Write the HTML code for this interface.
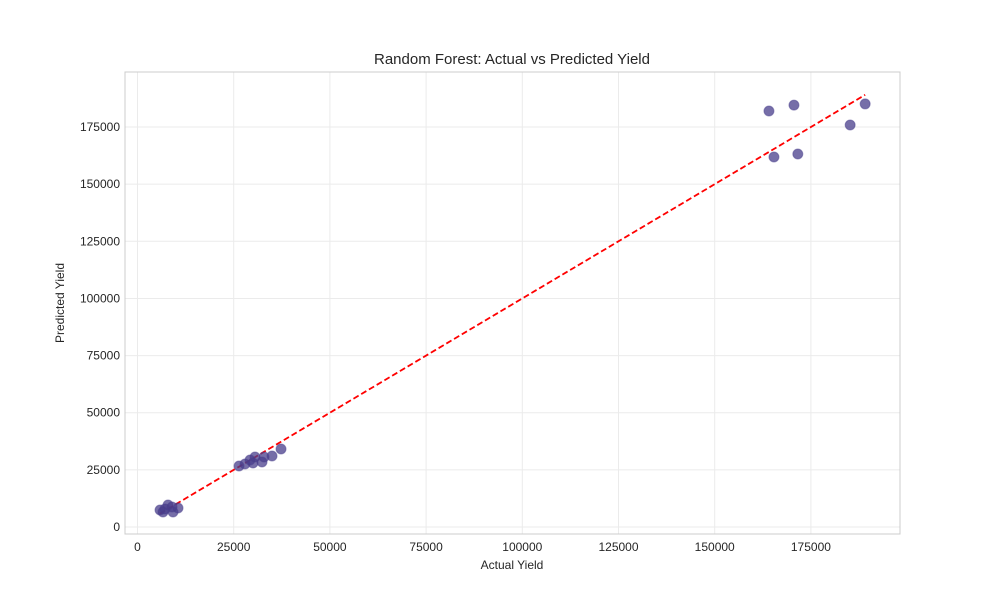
<!DOCTYPE html>
<html><head><meta charset="utf-8"><style>
body{margin:0;background:#fff;font-family:"Liberation Sans",sans-serif;}
text{font-family:"Liberation Sans",sans-serif;fill:#262626;}
</style></head><body>
<svg id="chart" width="1000" height="600" xmlns="http://www.w3.org/2000/svg">
<rect width="1000" height="600" fill="#fff"/>
<g id="grid"></g>
<g id="xticks"></g>
<g id="yticks"></g>
<line id="ideal" stroke="#ff0000" stroke-width="1.8" stroke-dasharray="6,3"/>
<g id="pts"></g>
<rect x="125" y="72" width="775" height="462" fill="none" stroke="#ccc" stroke-width="1"/>
<text x="512" y="64" text-anchor="middle" font-size="15">Random Forest: Actual vs Predicted Yield</text>
<text x="512" y="569" text-anchor="middle" font-size="12">Actual Yield</text>
<text transform="translate(64,303) rotate(-90)" text-anchor="middle" font-size="12">Predicted Yield</text>
</svg>
<script>
const actual=[5850,7930,9230,10530,6630,8970,7150,26380,27940,29240,30540,30020,32360,32880,34960,37300,164100,170600,189100,185200,165400,171600];
const predicted=[7440,9630,6560,8310,6560,8750,7880,26690,27560,29310,30630,28000,28440,30630,31060,34130,182000,184600,185100,175900,161900,163200];
const xTicks=[0,25000,50000,75000,100000,125000,150000,175000];
const yTicks=[0,25000,50000,75000,100000,125000,150000,175000];
const NS="http://www.w3.org/2000/svg";
const xs=v=>137.5+v*96.2/25000, ys=v=>527-v*57.14/25000;
function mk(t,a,p){const e=document.createElementNS(NS,t);for(const k in a)e.setAttribute(k,a[k]);p.appendChild(e);return e;}
const g=document.getElementById('grid'),gx=document.getElementById('xticks'),gy=document.getElementById('yticks');
xTicks.forEach(v=>{const x=xs(v);
const l=mk('line',{x1:x,x2:x,y1:72,y2:534,stroke:'#ebebeb'},g);

const t=mk('text',{x:x,y:551,'text-anchor':'middle','font-size':12},gx);t.textContent=v;
});
yTicks.forEach(v=>{const y=ys(v);
const l=mk('line',{x1:125,x2:900,y1:y,y2:y,stroke:'#ebebeb'},g);

const t=mk('text',{x:120,y:y+4,'text-anchor':'end','font-size':12},gy);t.textContent=v;
});
const p=document.getElementById('pts');
actual.forEach((a,i)=>{const c=mk('circle',{cx:xs(a),cy:ys(predicted[i]),r:5,fill:'#483d8b','fill-opacity':0.75,stroke:'#483d8b','stroke-opacity':0.5},p);
});
const mn=Math.min(...actual),mx=Math.max(...actual),L=document.getElementById('ideal');
L.setAttribute('x1',xs(mn));L.setAttribute('y1',ys(mn));L.setAttribute('x2',xs(mx));L.setAttribute('y2',ys(mx));
</script>
</body></html>
